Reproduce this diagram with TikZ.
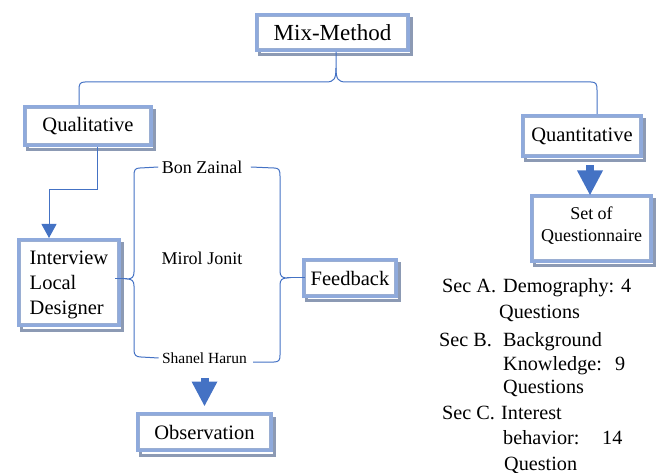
\documentclass[tikz,border=0pt]{standalone}
\usepackage{fontspec}
\setmainfont{Liberation Serif}
\usetikzlibrary{arrows.meta}
\definecolor{boxblue}{HTML}{8FAADC}
\definecolor{shadowc}{HTML}{8C9AB4}
\definecolor{innerc}{HTML}{9AAED2}
\definecolor{connc}{HTML}{4472C4}
\begin{document}
\begin{tikzpicture}[x=1pt,y=-1pt,
  wbox/.style={draw=boxblue, line width=3pt, fill=white, inner sep=0pt, text=black,
    preaction={draw=shadowc, line width=3pt, transform canvas={shift={(2.5pt,-4.5pt)}}}},
  conn/.style={draw=connc, line width=1pt},
  barrow/.style={draw=connc, line width=8pt, -{Triangle[width=24pt,length=25pt]}},
  fbig/.style={font=\fontsize{23}{27}\selectfont},
  fmid/.style={font=\fontsize{20.5}{25}\selectfont},
  fname/.style={font=\fontsize{18}{22}\selectfont},
  fsec/.style={font=\fontsize{20.2}{24}\selectfont, anchor=base west, inner sep=0pt}
]
\useasboundingbox (0,0) rectangle (659,473);

\coordinate (ltip) at (127,279);
\coordinate (rtip) at (287,278);

% boxes
\node[wbox, fbig, minimum width=152pt, minimum height=36pt] (mix) at (332.5,32.5) {Mix-Method};
\node[wbox, fmid, minimum width=127pt, minimum height=39pt] (qual) at (88,126) {Qualitative};
\node[wbox, fmid, minimum width=119pt, minimum height=41pt] (quant) at (582,136) {Quantitative};
\node[wbox, fmid, minimum width=101pt, minimum height=86pt, align=left] (interview) at (69,282.5) {\rule{0pt}{18pt}Interview\\Local\\Designer};
\node[wbox, fmid, minimum width=93pt, minimum height=37pt] (feedback) at (350,278) {Feedback};
\node[wbox, fmid, minimum width=134pt, minimum height=37pt] (observation) at (204.5,432) {Observation};
\node[wbox, fname, minimum width=120pt, minimum height=66pt, align=center, text depth=8pt] (set) at (591.5,228.5) {Set of\\Questionnaire};

\foreach \n in {mix,qual,quant,interview,feedback,observation,set}
  \draw[innerc, line width=0.9pt] ([shift={(3.5pt,-3.5pt)}]\n.north west) rectangle ([shift={(-3.5pt,3.5pt)}]\n.south east);

% names
\node[fname] (bon) at (202,167) {Bon Zainal};
\node[fname] (mirol) at (202,258) {Mirol Jonit};
\node[font=\fontsize{15.5}{18}\selectfont] (shanel) at (204.5,358) {Shanel Harun};

% brace from Mix-Method
\draw[conn] ([xshift=3.5pt]mix.south) -- (336,68)
  .. controls (336,79) and (334,82) .. (326,82) -- (85,82)
  .. controls (80,82) and (79,84) .. (79,90) -- ([xshift=-9pt]qual.north);
\draw[conn] (336,68)
  .. controls (336,79) and (338,82) .. (346,82) -- (591,82)
  .. controls (596,82) and (597,84) .. (597,90) -- ([xshift=15pt]quant.north);

% Qualitative -> Interview
\draw[conn, -{Triangle[width=15pt,length=14pt]}] ([xshift=9pt]qual.south) |- (49,190)
  -- ([xshift=-20pt]interview.north) ;

% left brace
\draw[conn] (bon.west) -- (140,168) .. controls (135,168) and (134,170) .. (134,176)
  -- (134,272) .. controls (134,277) and (132,279) .. (ltip)
  .. controls (132,279) and (134,281) .. (134,286)
  -- (134,350) .. controls (134,355) and (136,357) .. (141,357) -- (shanel.west);
\draw[conn] (ltip) -- ([xshift=-6pt,yshift=3.5pt]interview.east);

% right brace
\draw[conn] ([xshift=5pt]bon.east) -- (274,168) .. controls (279,168) and (280,170) .. (280,176)
  -- (280,271) .. controls (280,276) and (282,278) .. (rtip)
  .. controls (282,278) and (280,280) .. (280,285)
  -- (280,355) .. controls (280,360) and (279,362) .. (274,362) -- (253,362);
\draw[conn] (rtip) -- ([xshift=3pt]feedback.west);

% block arrows
\draw[barrow, shorten <=11pt, shorten >=5.5pt] (shanel.south) -- (observation.north);
\draw[barrow, shorten <=7.5pt, shorten >=-1.5pt] ([xshift=8pt]quant.south) -- ([xshift=-1.5pt]set.north);

% section text
\node[fsec] (sa) at (442,293) {Sec A.};
\node[fsec] (sa1) at (503,293) {Demography: 4};
\node[fsec] (sa2) at (499,319) {Questions};
\node[fsec] (sb) at (439,346) {Sec B.};
\node[fsec] (sb1) at (503,346) {Background};
\node[fsec] (sb2) at (503,370) {Knowledge:};
\node[fsec] (sb2n) at (615,370) {9};
\node[fsec] (sb3) at (503,393) {Questions};
\node[fsec] (sc) at (442,419) {Sec C.};
\node[fsec] (sc1) at (501,419) {Interest};
\node[fsec] (sc2) at (503,444) {behavior:};
\node[fsec] (sc2n) at (602,444) {14};
\node[fsec] (sc3) at (504,470) {Question};
\end{tikzpicture}
\end{document}
